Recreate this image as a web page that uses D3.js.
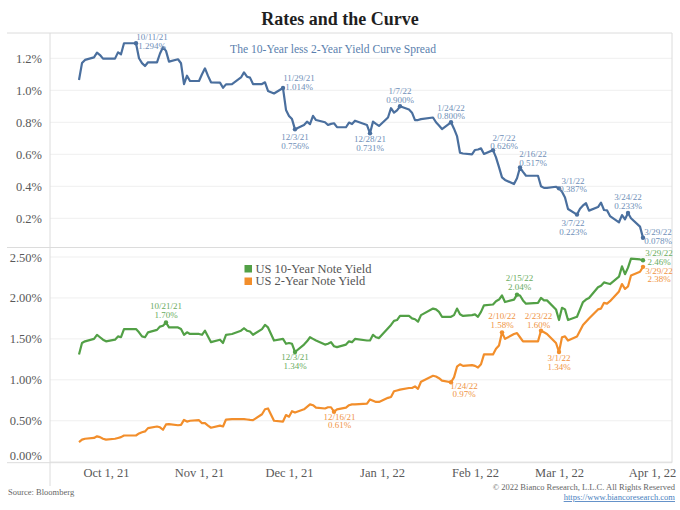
<!DOCTYPE html>
<html><head><meta charset="utf-8">
<script src="https://cdn.jsdelivr.net/npm/d3@7/dist/d3.min.js"></script>
<style>
body{margin:0;background:#fff}
svg{display:block}
text{font-family:"Liberation Serif","DejaVu Serif",serif}
</style>
</head><body>
<svg id="chart" width="680" height="510"></svg>
<script>
// ---------------- data ----------------
const dates = [
"2021-09-22","2021-09-23","2021-09-24","2021-09-27","2021-09-28","2021-09-29","2021-09-30","2021-10-01",
"2021-10-04","2021-10-05","2021-10-06","2021-10-07","2021-10-08","2021-10-11","2021-10-12","2021-10-13",
"2021-10-14","2021-10-15","2021-10-18","2021-10-19","2021-10-20","2021-10-21","2021-10-22","2021-10-25",
"2021-10-26","2021-10-27","2021-10-28","2021-10-29","2021-11-01","2021-11-02","2021-11-03","2021-11-04",
"2021-11-05","2021-11-08","2021-11-09","2021-11-10","2021-11-12","2021-11-15","2021-11-16","2021-11-17",
"2021-11-18","2021-11-19","2021-11-22","2021-11-23","2021-11-24","2021-11-26","2021-11-29","2021-11-30",
"2021-12-01","2021-12-02","2021-12-03","2021-12-06","2021-12-07","2021-12-08","2021-12-09","2021-12-10",
"2021-12-13","2021-12-14","2021-12-15","2021-12-16","2021-12-17","2021-12-20","2021-12-21","2021-12-22",
"2021-12-23","2021-12-27","2021-12-28","2021-12-29","2021-12-30","2021-12-31","2022-01-03","2022-01-04",
"2022-01-05","2022-01-06","2022-01-07","2022-01-10","2022-01-11","2022-01-12","2022-01-13","2022-01-14",
"2022-01-18","2022-01-19","2022-01-20","2022-01-21","2022-01-24","2022-01-25","2022-01-26","2022-01-27",
"2022-01-28","2022-01-31","2022-02-01","2022-02-02","2022-02-03","2022-02-04","2022-02-07","2022-02-08",
"2022-02-09","2022-02-10","2022-02-11","2022-02-14","2022-02-15","2022-02-16","2022-02-17","2022-02-18",
"2022-02-22","2022-02-23","2022-02-24","2022-02-25","2022-02-28","2022-03-01","2022-03-02","2022-03-03",
"2022-03-04","2022-03-07","2022-03-08","2022-03-09","2022-03-10","2022-03-11","2022-03-14","2022-03-15",
"2022-03-16","2022-03-17","2022-03-18","2022-03-21","2022-03-22","2022-03-23","2022-03-24","2022-03-25",
"2022-03-28","2022-03-29"];

// 10-Year less 2-Year spread (%)
const spread = [
1.064,1.170,1.190,1.206,1.235,1.220,1.198,1.198,
1.198,1.237,1.225,1.294,1.294,1.294,1.200,1.170,
1.152,1.175,1.175,1.230,1.269,1.246,1.179,1.194,
1.169,1.039,1.091,1.058,1.058,1.100,1.137,1.090,
1.050,1.048,1.016,1.037,1.039,1.080,1.112,1.085,
1.079,1.039,1.039,1.050,0.996,0.980,1.014,0.877,
0.840,0.820,0.756,0.783,0.804,0.788,0.840,0.814,
0.800,0.783,0.790,0.794,0.770,0.769,0.798,0.789,
0.810,0.783,0.731,0.804,0.790,0.777,0.830,0.888,
0.860,0.875,0.900,0.880,0.860,0.814,0.814,0.820,
0.830,0.800,0.780,0.758,0.800,0.760,0.714,0.610,
0.605,0.600,0.627,0.630,0.637,0.602,0.626,0.581,
0.520,0.456,0.440,0.414,0.450,0.517,0.490,0.466,
0.466,0.400,0.390,0.390,0.397,0.387,0.366,0.330,
0.258,0.223,0.260,0.280,0.294,0.248,0.270,0.298,
0.252,0.250,0.214,0.175,0.220,0.194,0.233,0.200,
0.148,0.078];

// US 10-Year Note Yield (%)
const tenYear = [
1.31,1.45,1.47,1.50,1.55,1.52,1.49,1.47,
1.49,1.53,1.52,1.62,1.62,1.62,1.58,1.53,
1.52,1.58,1.61,1.65,1.66,1.70,1.64,1.64,
1.62,1.55,1.58,1.56,1.56,1.55,1.60,1.53,
1.46,1.49,1.45,1.55,1.56,1.60,1.63,1.60,
1.59,1.55,1.62,1.67,1.64,1.48,1.50,1.44,
1.45,1.44,1.34,1.43,1.47,1.52,1.50,1.48,
1.43,1.44,1.46,1.41,1.40,1.43,1.47,1.46,
1.50,1.48,1.48,1.55,1.52,1.51,1.63,1.67,
1.72,1.73,1.78,1.78,1.75,1.74,1.71,1.79,
1.87,1.86,1.83,1.77,1.77,1.79,1.87,1.80,
1.78,1.79,1.80,1.77,1.83,1.91,1.92,1.96,
1.98,2.03,1.95,1.98,2.04,2.03,1.97,1.93,
1.94,2.00,1.97,1.97,1.86,1.73,1.88,1.86,
1.73,1.77,1.86,1.95,1.98,2.00,2.13,2.15,
2.19,2.18,2.17,2.26,2.385,2.29,2.37,2.48,
2.47,2.46];

// US 2-Year Note Yield (%)
const twoYear = [
0.24,0.27,0.28,0.29,0.31,0.30,0.28,0.27,
0.28,0.29,0.30,0.32,0.32,0.32,0.345,0.36,
0.37,0.41,0.43,0.42,0.39,0.455,0.46,0.445,
0.45,0.51,0.49,0.50,0.507,0.47,0.47,0.44,
0.415,0.44,0.43,0.515,0.52,0.52,0.52,0.515,
0.51,0.507,0.58,0.64,0.65,0.50,0.49,0.57,
0.55,0.617,0.60,0.64,0.67,0.70,0.69,0.66,
0.65,0.665,0.665,0.61,0.64,0.66,0.69,0.70,
0.70,0.71,0.76,0.745,0.73,0.73,0.78,0.79,
0.86,0.87,0.88,0.90,0.90,0.92,0.89,0.976,
1.05,1.04,1.02,0.99,0.97,1.03,1.16,1.19,
1.17,1.18,1.17,1.15,1.19,1.31,1.31,1.38,
1.42,1.58,1.50,1.56,1.57,1.52,1.47,1.47,
1.47,1.60,1.58,1.56,1.45,1.34,1.52,1.53,
1.48,1.53,1.60,1.67,1.71,1.75,1.86,1.87,
1.94,1.93,1.96,2.08,2.17,2.11,2.14,2.275,
2.32,2.38];

const spreadTicks = [0.2,0.4,0.6,0.8,1.0,1.2];
const yieldTicks = [0,0.5,1.0,1.5,2.0,2.5];
const monthTicks = ["2021-10-01","2021-11-01","2021-12-01","2022-01-01","2022-02-01","2022-03-01","2022-04-01"];

// annotated dates
const spreadNotes = ["2021-10-11","2021-11-29","2021-12-03","2021-12-28","2022-01-07","2022-01-24","2022-02-07","2022-02-16","2022-03-01","2022-03-07","2022-03-24","2022-03-29"];
const tenNotes = ["2021-10-21","2021-12-03","2022-02-15","2022-03-29"];
const twoNotes = ["2021-12-16","2022-01-24","2022-02-10","2022-02-23","2022-03-01","2022-03-29"];

const titleText = "Rates and the Curve";
const spreadTitle = "The 10-Year less 2-Year Yield Curve Spread";
const legendNames = ["US 10-Year Note Yield","US 2-Year Note Yield"];

// ---------------- drawing ----------------
const parse = d3.utcParse("%Y-%m-%d");
const svg = d3.select("#chart");
const L = 50, R = 672, lineL = 7;
const topY0 = 33, topY1 = 247, botY0 = 248, botY1 = 461.7;

const x = d3.scaleUtc()
  .domain([new Date(Date.UTC(2021,8,12,8)), new Date(Date.UTC(2022,3,7,16))])
  .range([L, R]);
const yTop = d3.scaleLinear().domain([0.0206, 1.358]).range([topY1, topY0]);
const yBot = d3.scaleLinear().domain([0.0, 2.61]).range([botY1, botY0]);

const C = {
  spread:"#4a6f9e", ten:"#52a046", two:"#f28e2b",
  spreadTxt:"#6f8fb8", tenTxt:"#6aac5e", twoTxt:"#ef9444",
  axis:"#595959", grid:"#efefef", border:"#dcdcdc"
};

const rows = dates.map((d,i)=>({date:parse(d), key:d, s:spread[i], g:tenYear[i], o:twoYear[i]}));

// gridlines
svg.append("g").selectAll("line").data(spreadTicks).join("line")
  .attr("x1",L).attr("x2",R).attr("y1",d=>yTop(d)).attr("y2",d=>yTop(d))
  .attr("stroke",C.grid).attr("stroke-width",1);
svg.append("g").selectAll("line").data(yieldTicks).join("line")
  .attr("x1",L).attr("x2",R).attr("y1",d=>yBot(d)).attr("y2",d=>yBot(d))
  .attr("stroke",C.grid).attr("stroke-width",1);

// frame lines
const frame = svg.append("g").attr("stroke",C.border).attr("stroke-width",1).attr("fill","none");
[topY0, topY1+0.5, botY1+1].forEach(yy=>frame.append("line").attr("x1",lineL).attr("x2",R).attr("y1",yy).attr("y2",yy));
frame.append("line").attr("x1",L).attr("x2",L).attr("y1",topY0).attr("y2",486);
frame.append("line").attr("x1",R).attr("x2",R).attr("y1",topY0).attr("y2",botY1+1);

// y axes (labels only)
const axTop = svg.append("g").attr("transform",`translate(${L-5},0)`)
  .call(d3.axisLeft(yTop).tickValues(spreadTicks).tickSize(0).tickFormat(d=>d3.format(".1f")(d)+"%"));
const axBot = svg.append("g").attr("transform",`translate(${L-5},0)`)
  .call(d3.axisLeft(yBot).tickValues(yieldTicks).tickSize(0).tickFormat(d=>d3.format(".2f")(d)+"%"));
[axTop,axBot].forEach(a=>{
  a.select(".domain").remove();
  a.selectAll("text").attr("fill",C.axis).style("font-size","12.5px")
   .style("font-family",'"Liberation Serif",serif');
});
axBot.selectAll(".tick").filter(d=>d===0).select("text").attr("dy","-0.2em");

// x axis
const axX = svg.append("g").attr("transform",`translate(0,${botY1+1})`)
  .call(d3.axisBottom(x).tickValues(monthTicks.map(parse)).tickSize(0).tickPadding(5)
     .tickFormat(d3.utcFormat("%b %-d, %y")));
axX.select(".domain").remove();
axX.selectAll("text").attr("fill",C.axis).style("font-size","12.5px")
   .style("font-family",'"Liberation Serif",serif');

// lines
const mkLine = (y, key) => d3.line().x(d=>x(d.date)).y(d=>y(d[key]));
svg.append("path").datum(rows).attr("d",mkLine(yTop,"s")).attr("fill","none")
  .attr("stroke",C.spread).attr("stroke-width",2.2).attr("stroke-linejoin","round");
svg.append("path").datum(rows).attr("d",mkLine(yBot,"g")).attr("fill","none")
  .attr("stroke",C.ten).attr("stroke-width",2.2).attr("stroke-linejoin","round");
svg.append("path").datum(rows).attr("d",mkLine(yBot,"o")).attr("fill","none")
  .attr("stroke",C.two).attr("stroke-width",2.2).attr("stroke-linejoin","round");

// annotation placement (center offset dx, first-line offset dy from the point)
const place = {
  "s2021-10-11":[16,-6],"s2021-11-29":[16,-10],"s2021-12-03":[0,7.7],"s2021-12-28":[0,6],
  "s2022-01-07":[0,-15.3],"s2022-01-24":[0,-14.6],"s2022-02-07":[11,-12.4],"s2022-02-16":[13,-13.6],
  "s2022-03-01":[14,-7.7],"s2022-03-07":[-4,8.7],"s2022-03-24":[0,-15.7],"s2022-03-29":[15,-5.5],
  "g2021-10-21":[0,-16.2],"g2021-12-03":[0,5.5],"g2022-02-15":[2.5,-16.7],"g2022-03-29":[16,-7.3],
  "o2021-12-16":[5.5,5],"o2022-01-24":[13,3.5],"o2022-02-10":[0,-16],"o2022-02-23":[-2.5,-14.4],
  "o2022-03-01":[0,6],"o2022-03-29":[16,4]
};
const fmtDate = d3.utcFormat("%-m/%-d/%y");
function annotate(list, key, y, fmt){
  const g = svg.append("g");
  const mc = key==="s"?C.spread:key==="g"?C.ten:C.two;
  const tc = key==="s"?C.spreadTxt:key==="g"?C.tenTxt:C.twoTxt;
  list.forEach(k=>{
    const r = rows.find(d=>d.key===k);
    const px = x(r.date), py = y(r[key]);
    g.append("circle").attr("cx",px).attr("cy",py).attr("r",2.2).attr("fill",mc);
    const [dx,dy] = place[key+k];
    const t = g.append("text").attr("text-anchor","middle").attr("fill",tc)
      .style("font-size","9px");
    t.append("tspan").attr("x",px+dx).attr("y",py+dy+3).text(fmtDate(r.date));
    t.append("tspan").attr("x",px+dx).attr("y",py+dy+3+8.6).text(fmt(r[key])+"%");
  });
}
annotate(spreadNotes,"s",yTop,d3.format(".3f"));
annotate(tenNotes,"g",yBot,d3.format(".2f"));
annotate(twoNotes,"o",yBot,d3.format(".2f"));

// titles
svg.append("text").attr("x",340).attr("y",25).attr("text-anchor","middle")
  .attr("fill","#1f1f1f").style("font-size","18px").style("font-weight","bold").text(titleText);
svg.append("text").attr("x",333).attr("y",53).attr("text-anchor","middle")
  .attr("fill","#5b7fae").style("font-size","11.6px").text(spreadTitle);

// legend
const leg = svg.append("g");
[[C.ten,legendNames[0]],[C.two,legendNames[1]]].forEach((d,i)=>{
  leg.append("rect").attr("x",244.5).attr("y",265+i*12.5).attr("width",7.5).attr("height",7.5).attr("fill",d[0]);
  leg.append("text").attr("x",255.5).attr("y",272.5+i*12.5).attr("fill","#555").style("font-size","12.5px").text(d[1]);
});

// footer
svg.append("text").attr("x",8).attr("y",495).attr("fill","#666").style("font-size","8.5px").text("Source: Bloomberg");
svg.append("text").attr("x",675).attr("y",490).attr("text-anchor","end").attr("fill","#666").style("font-size","8.5px")
  .text("\u00A9 2022 Bianco Research, L.L.C. All Rights Reserved");
svg.append("text").attr("x",675).attr("y",500).attr("text-anchor","end").attr("fill","#4a7fc0").style("font-size","8.5px")
  .attr("text-decoration","underline").text("https://www.biancoresearch.com");
</script>
</body></html>
